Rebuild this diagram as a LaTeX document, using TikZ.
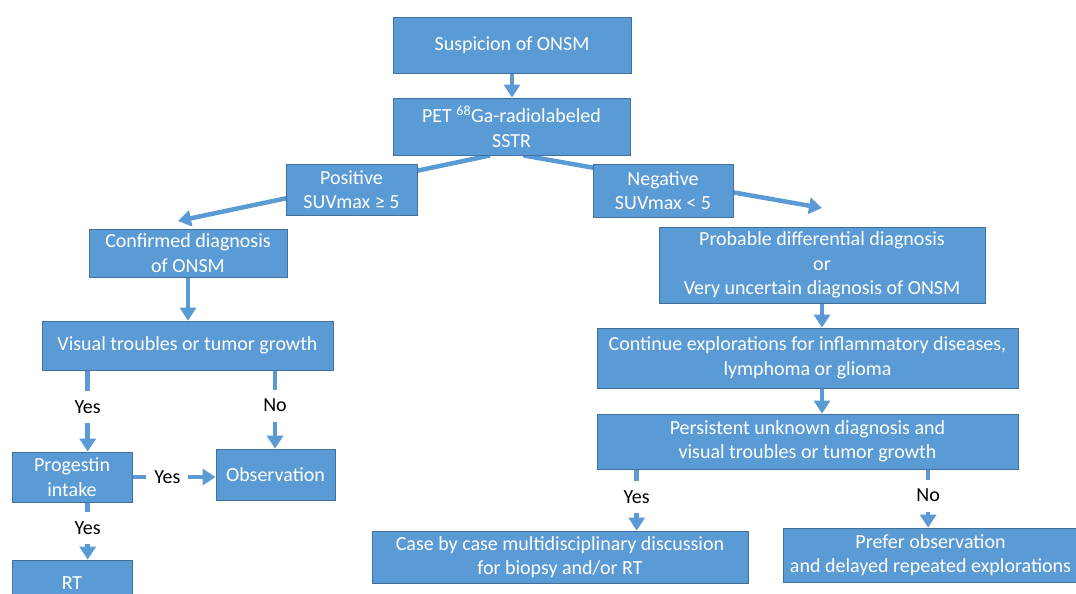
\documentclass[tikz,border=0pt]{standalone}
\usepackage{fontspec}
\setmainfont{Carlito}
\usetikzlibrary{arrows.meta,backgrounds,calc}
\definecolor{boxfill}{RGB}{91,155,213}
\definecolor{boxedge}{RGB}{65,113,156}
\tikzset{
  stepbox/.style={draw=boxedge, line width=0.8pt, fill=boxfill, text=white,
    align=center, inner sep=2pt, font=\fontsize{20}{24.5}\selectfont},
  flow/.style={draw=boxfill, line width=4.5pt, -{Triangle[length=13pt,width=16pt]}},
  answer/.style={fill=white, text=black, inner xsep=8pt, minimum height=32pt,
    font=\fontsize{20}{24}\selectfont},
}
% name, centre, width, height, text
\newcommand{\flowbox}[5]{\node[stepbox, minimum width=#3pt, minimum height=#4pt] (#1) at (#2) {#5};}

\begin{document}
\begin{tikzpicture}[x=1pt,y=-1pt]
\useasboundingbox (0,0) rectangle (1076,594);
\flowbox{suspicion}{512,45}{238}{56}{Suspicion of ONSM}
\flowbox{pet}{511.5,126.5}{237}{57}{PET \textsuperscript{68}Ga-radiolabeled\\SSTR}
\flowbox{positive}{351.5,189.5}{131}{51}{Positive\\SUVmax ≥ 5}
\flowbox{negative}{663,190.5}{140}{53}{Negative\\SUVmax < 5}
\flowbox{confirmed}{188,253}{198}{48}{Confirmed diagnosis\\of ONSM}
\flowbox{probable}{822,265}{326}{76}{Probable differential diagnosis\\or\\Very uncertain diagnosis of ONSM}
\flowbox{visual}{187.5,345.5}{291}{49}{Visual troubles or tumor growth}
\flowbox{explore}{807.5,358}{421}{60}{Continue explorations for inflammatory diseases,\\lymphoma or glioma}
\flowbox{persist}{807.5,441.5}{421}{55}{Persistent unknown diagnosis and\\visual troubles or tumor growth}
\flowbox{progestin}{72,477}{120}{50}{Progestin\\intake}
\flowbox{observe}{275.5,474.5}{119}{51}{Observation}
\flowbox{rt}{72,583}{120}{46}{RT}
\flowbox{discuss}{560,557}{376}{52}{Case by case multidisciplinary discussion\\for biopsy and/or RT}
\flowbox{prefer}{930.5,555}{295}{54}{Prefer observation\\and delayed repeated explorations}

\coordinate (posend) at (178,221);
\coordinate (negend) at (822,208);
\coordinate (visyes) at ($(visual.south west)!0.158!(visual.south east)$);
\coordinate (visno) at ($(visual.south west)!0.80!(visual.south east)$);
\coordinate (peryes) at ($(persist.south west)!0.095!(persist.south east)$);
\coordinate (perno) at ($(persist.south west)!0.786!(persist.south east)$);

\begin{scope}[on background layer]
\draw[flow] (suspicion.south) -- (suspicion.south |- pet.north);
\draw[flow] ($(pet.south west)!0.41!(pet.south east)$) -- (posend);
\draw[flow] ($(pet.south west)!0.55!(pet.south east)$) -- (negend);
\draw[flow] (confirmed.south) -- (confirmed.south |- visual.north);
\draw[flow] (probable.south) -- (probable.south |- explore.north);
\draw[flow] (explore.south -| probable.south) -- (probable.south |- persist.north);
% answers
\draw[flow] (visyes) -- node[answer, pos=0.45] {Yes} (visyes |- progestin.north);
\draw[flow] (visno) -- node[answer, pos=0.45] {No} (visno |- observe.north);
\draw[flow] (progestin.east) -- node[answer, pos=0.42] {Yes} (progestin.east -| observe.west);
\draw[flow] (visyes |- progestin.south) -- node[answer, pos=0.45] {Yes} (visyes |- rt.north);
\draw[flow] (peryes) -- node[answer, pos=0.45] {Yes} (peryes |- discuss.north);
\draw[flow] (perno) -- node[answer, pos=0.45] {No} (perno |- prefer.north);
\end{scope}
\end{tikzpicture}
\end{document}
